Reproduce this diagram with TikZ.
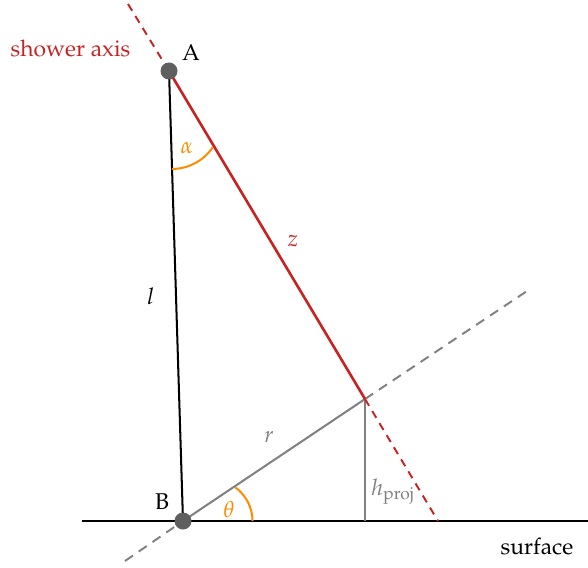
\documentclass[tikz,border=0pt]{standalone}
\usepackage[T1]{fontenc}
\usepackage{mathpazo}
\usetikzlibrary{calc}
\definecolor{axisred}{RGB}{200,35,35}
\definecolor{angleorange}{RGB}{255,140,0}
\definecolor{dotgray}{RGB}{95,95,95}

\begin{document}
\begin{tikzpicture}[
    font=\fontsize{13}{15}\selectfont,
    axis/.style={axisred, line width=1.5pt},
    axisext/.style={axisred, line width=1.1pt, dash pattern=on 4.5pt off 3.5pt},
    proj/.style={gray, line width=1.15pt},
    projext/.style={gray, line width=1.1pt, dash pattern=on 5.5pt off 4pt},
    ang/.style={angleorange, line width=1.15pt},
    dot/.style={circle, fill=dotgray, inner sep=0pt, minimum size=0.34cm}
]
\useasboundingbox (0,0) rectangle (11.76,11.34);

% points
\coordinate (A) at (3.38,9.92);
\coordinate (B) at (3.66,0.92);
\coordinate (P) at (7.30,3.36);
\coordinate (Q) at (7.30,0.92);
\coordinate (axistop) at (2.56,11.26);
\coordinate (axisend) at (8.76,0.92);
\coordinate (projtop) at (10.54,5.52);
\coordinate (projend) at (2.50,0.12);
\coordinate (surfl) at (1.64,0.92);
\coordinate (surfr) at (11.76,0.92);

% surface
\draw[line width=1.15pt] (surfl) -- (surfr);

% projection
\draw[projext] (projend) -- (B);
\draw[projext] (P) -- (projtop);
\draw[proj] (B) -- (P);
\draw[proj] (P) -- (Q);

% l
\draw[line width=1.15pt] (A) -- (B);

% shower axis
\draw[axisext] (axistop) -- (A);
\draw[axis] (A) -- (P);
\draw[axisext] (P) -- (axisend);

% angles
\draw[ang] ($(A)+(-88.2:1.96)$) arc[start angle=-90, end angle=-34, radius=0.98];
\draw[ang] ($(B)+(0:1.39)$) arc[start angle=0, end angle=54, radius=0.83];

\node[dot] (Adot) at (A) {};
\node[dot] (Bdot) at (B) {};

% labels
\node[text=axisred] (axislabel) at (1.41,10.38) {shower axis};
\node (Alabel) at (3.82,10.28) {A};
\node (Blabel) at (3.24,1.30) {B};
\node[text=angleorange] (alphalabel) at (3.74,8.38) {$\alpha$};
\node[text=angleorange] (thetalabel) at (4.58,1.16) {$\theta$};
\node[text=axisred] (zlabel) at (5.86,6.52) {$z$};
\node (llabel) at (3.02,5.42) {$l$};
\node[text=gray] (rlabel) at (5.38,2.6) {$r$};
\node[text=gray] (hlabel) at (7.86,1.50) {$h_{\mathrm{proj}}$};
\node (surflabel) at (10.74,0.42) {surface};
\end{tikzpicture}
\end{document}
